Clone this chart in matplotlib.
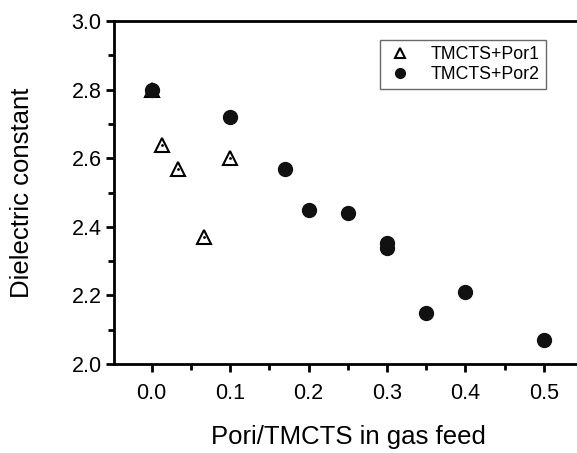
import matplotlib
matplotlib.use('Agg')
import matplotlib.pyplot as plt
from matplotlib.ticker import MultipleLocator

plt.rcParams['font.family'] = ['Liberation Sans', 'DejaVu Sans']

por1_x = [0.0, 0.013, 0.033, 0.067, 0.1]
por1_y = [2.80, 2.64, 2.57, 2.37, 2.60]

por2_x = [0.0, 0.1, 0.17, 0.2, 0.25, 0.3, 0.3, 0.35, 0.4, 0.5]
por2_y = [2.80, 2.72, 2.57, 2.45, 2.44, 2.353, 2.338, 2.15, 2.21, 2.07]

fig = plt.figure(figsize=(5.77, 4.53), dpi=100)
ax = fig.add_axes([0.1976, 0.1965, 0.813, 0.757])

ax.plot(por1_x, por1_y, linestyle='none', marker='^', markersize=10,
        markerfacecolor='white', markeredgecolor='black', markeredgewidth=1.5,
        label='TMCTS+Por1')
ax.plot(por1_x, por1_y, linestyle='none', marker='.', markersize=2, color='black')
ax.plot(por2_x, por2_y, linestyle='none', marker='o', markersize=10,
        color='#111111', label='TMCTS+Por2')

ax.set_xlim(-0.048, 0.55)
ax.set_ylim(2.0, 3.0)
ax.xaxis.set_major_locator(MultipleLocator(0.1))
ax.xaxis.set_minor_locator(MultipleLocator(0.05))
ax.yaxis.set_major_locator(MultipleLocator(0.2))
ax.yaxis.set_minor_locator(MultipleLocator(0.1))

for s in ['left', 'bottom', 'top']:
    ax.spines[s].set_linewidth(2)
ax.spines['right'].set_visible(False)
ax.tick_params(which='major', direction='out', length=6, width=2, labelsize=15.5,
               top=False, right=False)
ax.tick_params(axis='x', which='major', pad=8)
ax.tick_params(axis='y', which='major', pad=3)
ax.tick_params(which='minor', direction='out', length=4, width=2,
               top=False, right=False)

ax.set_xlabel('Pori/TMCTS in gas feed', fontsize=18.5)
ax.set_ylabel('Dielectric constant', fontsize=18.5)
ax.xaxis.set_label_coords(0.5, -0.213)
ax.yaxis.set_label_coords(-0.196, 0.5)
ax.xaxis.label.set_va('center')
ax.yaxis.label.set_va('center')

leg = ax.legend(loc='upper left', bbox_to_anchor=(0.6586, 0.9117),
                bbox_transform=fig.transFigure, borderaxespad=0, fontsize=12.8,
                frameon=True, fancybox=False, handletextpad=0.9, handlelength=1.6,
                borderpad=0.35, labelspacing=0.15, markerscale=0.7)
leg.get_frame().set_edgecolor('#444444')
leg.get_frame().set_linewidth(1)

fig.savefig('out.png', dpi=100)
